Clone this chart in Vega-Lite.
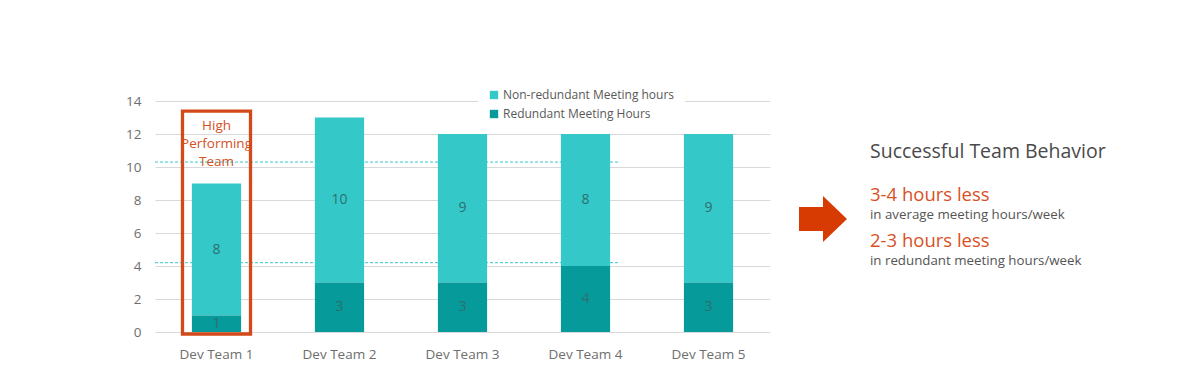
{
  "$schema": "https://vega.github.io/schema/vega-lite/v6.json",
  "background": "white",
  "padding": {"left": 125, "top": 79, "right": 0, "bottom": 0},
  "config": {
    "view": {"stroke": null},
    "font": "Segoe UI, Open Sans",
    "axisY": {"tickCount": 8, "labelOverlap": false, "ticks": false, "domain": false, "labelPadding": 14, "labelFontSize": 13.5, "labelColor": "#6e6e6e", "gridColor": "#d9d9d9", "gridWidth": 1},
    "axisX": {"labelAngle": 0, "ticks": false, "domain": false, "labelPadding": 15, "labelFontSize": 13.5, "labelColor": "#6e6e6e", "grid": false}
  },
  "spacing": 20,
  "hconcat": [
    {
      "width": 615,
      "height": 231,
      "data": {"values": [
        {"team": "Dev Team 1", "series": "Non-redundant Meeting hours", "hours": 8},
        {"team": "Dev Team 1", "series": "Redundant Meeting Hours", "hours": 1},
        {"team": "Dev Team 2", "series": "Non-redundant Meeting hours", "hours": 10},
        {"team": "Dev Team 2", "series": "Redundant Meeting Hours", "hours": 3},
        {"team": "Dev Team 3", "series": "Non-redundant Meeting hours", "hours": 9},
        {"team": "Dev Team 3", "series": "Redundant Meeting Hours", "hours": 3},
        {"team": "Dev Team 4", "series": "Non-redundant Meeting hours", "hours": 8},
        {"team": "Dev Team 4", "series": "Redundant Meeting Hours", "hours": 4},
        {"team": "Dev Team 5", "series": "Non-redundant Meeting hours", "hours": 9},
        {"team": "Dev Team 5", "series": "Redundant Meeting Hours", "hours": 3}
      ]},
      "layer": [
        {
          "mark": {"type": "bar", "width": {"band": 0.4}},
          "encoding": {
            "x": {
              "field": "team", "type": "nominal", "title": null,
              "scale": {"paddingInner": 0, "paddingOuter": 0}
            },
            "y": {
              "field": "hours", "type": "quantitative", "stack": "zero", "title": null,
              "scale": {"domain": [0, 14], "nice": false},
              "axis": {"values": [0, 2, 4, 6, 8, 10, 12, 14]}
            },
            "color": {
              "field": "series", "type": "nominal",
              "scale": {"domain": ["Non-redundant Meeting hours", "Redundant Meeting Hours"], "range": ["#35C8C8", "#079A9A"]},
              "legend": {"orient": "none", "legendX": 323, "legendY": -22, "title": null, "symbolType": "square", "symbolSize": 70, "symbolStrokeWidth": 0, "labelFontSize": 12, "labelLimit": 400, "labelColor": "#595959", "fillColor": "white", "padding": 10, "rowPadding": 7, "labelOffset": 3}
            },
            "order": {"field": "series", "sort": "descending"}
          }
        },
        {
          "transform": [
            {"stack": "hours", "groupby": ["team"], "sort": [{"field": "series", "order": "descending"}], "as": ["y0", "y1"]},
            {"calculate": "(datum.y0 + datum.y1) / 2", "as": "mid"}
          ],
          "mark": {"type": "text", "fontSize": 14, "color": "#2d6f6f", "baseline": "middle"},
          "encoding": {
            "x": {"field": "team", "type": "nominal", "title": null},
            "y": {"field": "mid", "type": "quantitative", "title": null, "axis": {"values": [0, 2, 4, 6, 8, 10, 12, 14]}},
            "text": {"field": "hours", "type": "quantitative"}
          }
        },
        {
          "data": {"values": [{"y": 10.3, "from": "Dev Team 1", "to": "Dev Team 4"}, {"y": 4.2, "from": "Dev Team 1", "to": "Dev Team 4"}]},
          "mark": {"type": "rule", "color": "#35C8C8", "strokeDash": [3, 2], "strokeWidth": 1},
          "encoding": {
            "x": {"field": "from", "type": "nominal", "bandPosition": 0, "title": null},
            "x2": {"field": "to", "bandPosition": 0.78},
            "y": {"field": "y", "type": "quantitative", "title": null, "axis": {"values": [0, 2, 4, 6, 8, 10, 12, 14]}}
          }
        },
        {
          "data": {"values": [{"team": "Dev Team 1", "top": 13.39, "bottom": -0.12}]},
          "mark": {"type": "bar", "width": {"band": 0.553}, "filled": false, "stroke": "#D4491A", "strokeWidth": 3.3},
          "encoding": {
            "x": {"field": "team", "type": "nominal", "title": null},
            "y": {"field": "top", "type": "quantitative", "title": null, "axis": {"values": [0, 2, 4, 6, 8, 10, 12, 14]}},
            "y2": {"field": "bottom"}
          }
        },
        {
          "data": {"values": [{"team": "Dev Team 1", "y": 12.48, "label": ["High", "Performing", "Team"]}]},
          "mark": {"type": "text", "fontSize": 13.5, "color": "#D5501E", "lineHeight": 18, "baseline": "middle"},
          "encoding": {
            "x": {"field": "team", "type": "nominal", "title": null},
            "y": {"field": "y", "type": "quantitative", "title": null, "axis": {"values": [0, 2, 4, 6, 8, 10, 12, 14]}},
            "text": {"field": "label"}
          }
        }
      ]
    },
    {
      "width": 400,
      "height": 231,
      "layer": [
        {
          "data": {"values": [{"x": 8.25, "y": 6.85}]},
          "mark": {"type": "point", "filled": true, "opacity": 1, "strokeWidth": 0, "color": "#D83B01", "size": 2304, "shape": "M-1,-0.5L0,-0.5L0,-0.96L1,0L0,0.96L0,0.5L-1,0.5Z"},
          "encoding": {
            "x": {"field": "x", "type": "quantitative", "scale": {"domain": [0, 100]}, "axis": null},
            "y": {"field": "y", "type": "quantitative", "scale": {"domain": [0, 14]}, "axis": null}
          }
        },
        {
          "data": {"values": [{"x": 20, "y": 10.9, "label": "Successful Team Behavior"}]},
          "mark": {"type": "text", "align": "left", "baseline": "middle", "fontSize": 19.5, "color": "#4a4a4a"},
          "encoding": {
            "x": {"field": "x", "type": "quantitative", "scale": {"domain": [0, 100]}, "axis": null},
            "y": {"field": "y", "type": "quantitative", "scale": {"domain": [0, 14]}, "axis": null},
            "text": {"field": "label"}
          }
        },
        {
          "data": {"values": [{"x": 20, "y": 8.32, "label": "3-4 hours less"}, {"x": 20, "y": 5.54, "label": "2-3 hours less"}]},
          "mark": {"type": "text", "align": "left", "baseline": "middle", "fontSize": 18.5, "color": "#D9501F"},
          "encoding": {
            "x": {"field": "x", "type": "quantitative", "scale": {"domain": [0, 100]}, "axis": null},
            "y": {"field": "y", "type": "quantitative", "scale": {"domain": [0, 14]}, "axis": null},
            "text": {"field": "label"}
          }
        },
        {
          "data": {"values": [{"x": 20, "y": 7.08, "label": "in average meeting hours/week"}, {"x": 20, "y": 4.3, "label": "in redundant meeting hours/week"}]},
          "mark": {"type": "text", "align": "left", "baseline": "middle", "fontSize": 13.3, "color": "#555555"},
          "encoding": {
            "x": {"field": "x", "type": "quantitative", "scale": {"domain": [0, 100]}, "axis": null},
            "y": {"field": "y", "type": "quantitative", "scale": {"domain": [0, 14]}, "axis": null},
            "text": {"field": "label"}
          }
        }
      ]
    }
  ]
}
